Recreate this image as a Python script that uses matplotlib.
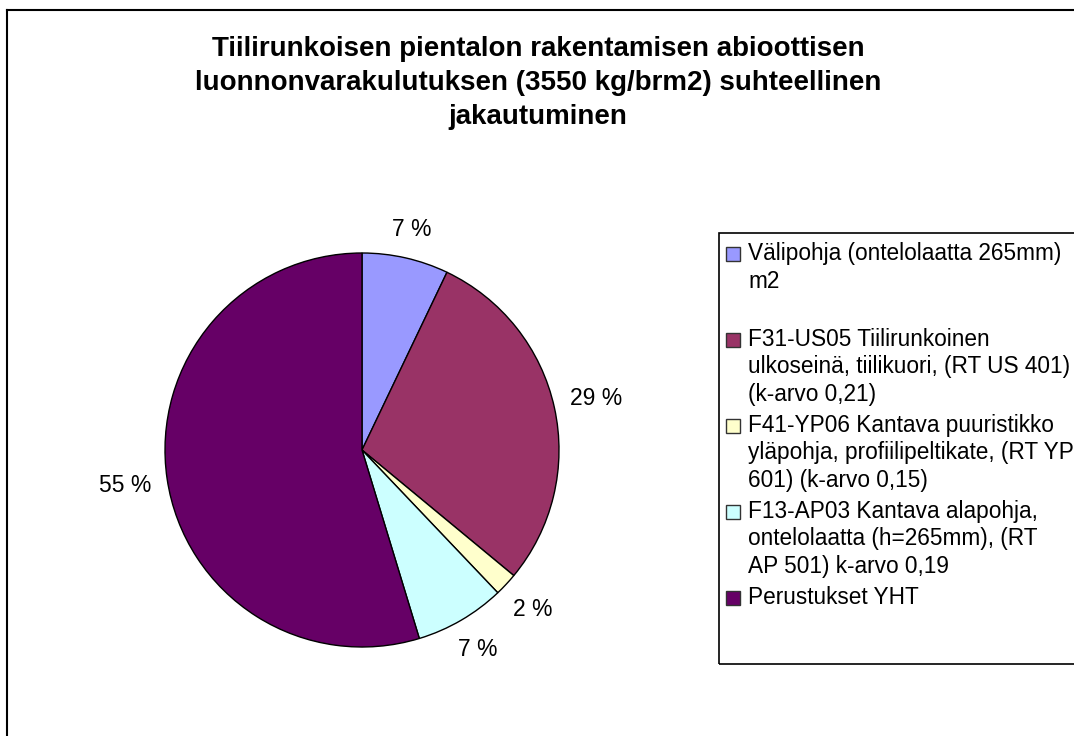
import numpy as np
import matplotlib
matplotlib.use("Agg")
from matplotlib import pyplot as plt
from matplotlib.patches import Rectangle
from matplotlib.lines import Line2D

plt.rcParams['font.family'] = ['Liberation Sans', 'DejaVu Sans']

# data (percent of total)
shares = [7.1, 28.9, 1.9, 7.4, 54.7]
pctLabels = ["7 %", "29 %", "2 %", "7 %", "55 %"]
names = [
    "Välipohja (ontelolaatta 265mm)\nm2",
    "F31-US05 Tiilirunkoinen\nulkoseinä, tiilikuori, (RT US 401)\n(k-arvo 0,21)",
    "F41-YP06 Kantava puuristikko\nyläpohja, profiilipeltikate, (RT YP\n601) (k-arvo 0,15)",
    "F13-AP03 Kantava alapohja,\nontelolaatta (h=265mm), (RT\nAP 501) k-arvo 0,19",
    "Perustukset YHT",
]
colors = ["#9999FF", "#993366", "#FFFFCC", "#CCFFFF", "#660066"]
title = ("Tiilirunkoisen pientalon rakentamisen abioottisen\n"
         "luonnonvarakulutuksen (3550 kg/brm2) suhteellinen\n"
         "jakautuminen")

W, H = 1074, 736
fig = plt.figure(figsize=(W / 100, H / 100), dpi=100)

def fx(px):
    return px / W

def fy(py):
    return 1 - py / H

# outer chart border (runs off the right / bottom edge)
fig.add_artist(Line2D([fx(7), fx(7)], [fy(10), -0.1], color="black", lw=1.5, transform=fig.transFigure))
fig.add_artist(Line2D([fx(7), 1.1], [fy(10), fy(10)], color="black", lw=1.5, transform=fig.transFigure))

fig.text(fx(538), fy(83), title, ha="center", va="center", fontsize=20,
         fontweight="bold", linespacing=1.42)

# pie
cx, cy, r = 362, 450, 197
ax = fig.add_axes([fx(cx - r), fy(cy + r), 2 * r / W, 2 * r / H])
wedges, _ = ax.pie(shares, colors=colors, startangle=90, counterclock=False,
                   wedgeprops=dict(edgecolor="black", linewidth=1))
ax.set_xlim(-1, 1)
ax.set_ylim(-1, 1)
ax.set_aspect("equal")
ax.axis("off")

for w, lab in zip(wedges, pctLabels):
    ang = np.deg2rad((w.theta1 + w.theta2) / 2)
    hw = len(lab) * 0.035
    hh = 0.055
    d = 1.07 + hw * abs(np.cos(ang)) + hh * abs(np.sin(ang))
    ax.text(d * np.cos(ang), d * np.sin(ang), lab, ha="center", va="center",
            fontsize=16.5, clip_on=False)

# legend box
fig.add_artist(Rectangle((fx(719), fy(664)), 1.0, fy(233) - fy(664), fill=False,
                         edgecolor="black", lw=1.2, transform=fig.transFigure))
for i, (nm, c) in enumerate(zip(names, colors)):
    ly = 254 + i * 86
    fig.add_artist(Rectangle((fx(726), fy(ly + 7)), 14 / W, 14 / H, facecolor=c,
                             edgecolor="#333333", lw=1, transform=fig.transFigure))
    fig.text(fx(748), fy(ly - 12), nm, ha="left", va="top", fontsize=16.3,
             linespacing=1.25)

fig.savefig("out.png", dpi=100)
